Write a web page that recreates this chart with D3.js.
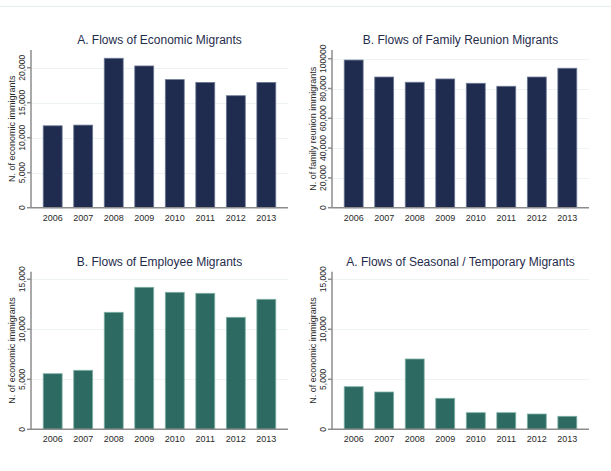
<!DOCTYPE html>
<html>
<head>
<meta charset="utf-8">
<script src="https://cdn.jsdelivr.net/npm/d3@7"></script>
<style>
  body { margin: 0; background: #fff; }
  svg { display: block; font-family: "Liberation Sans", Arial, sans-serif; }
  .grid line { stroke: #eef3f3; stroke-width: 1; }
  .axisline { stroke: #8c8c8c; stroke-width: 1.5; }
  .ttext { fill: #2a2a2a; font-size: 8.5px; }
  .xtext { fill: #2a2a2a; font-size: 9px; }
  .title { fill: #1f2c4c; font-size: 12px; text-anchor: middle; }
</style>
</head>
<body>
<svg id="chart" width="611" height="471"></svg>
<script>
var years = ['2006', '2007', '2008', '2009', '2010', '2011', '2012', '2013'];

var economic      = [11700, 11800, 21350, 20250, 18300, 17900, 16000, 17900];
var familyReunion = [99100, 87700, 84200, 86400, 83500, 81500, 87700, 93600];
var employee      = [5560, 5900, 11700, 14200, 13700, 13600, 11200, 13000];
var seasonal      = [4260, 3730, 7030, 3100, 1660, 1660, 1530, 1300];

var economicTicks = [0, 5000, 10000, 15000, 20000];
var economicTickLabels = ['0', '5,000', '10,000', '15,000', '20,000'];
var familyTicks = [0, 20000, 40000, 60000, 80000, 100000];
var familyTickLabels = ['0', '20,000', '40,000', '60,000', '80,000', '100000'];
var smallTicks = [0, 5000, 10000, 15000];
var smallTickLabels = ['0', '5,000', '10,000', '15,000'];

var navy = '#1f2b4f', navyEdge = '#6d7a96';
var teal = '#2d6b62', tealEdge = '#7fb0a6';

var svg = d3.select('#chart');

// faint rule across the top
svg.append('line')
   .attr('x1', 0).attr('x2', 611)
   .attr('y1', 6.5).attr('y2', 6.5)
   .attr('stroke', '#e8efef');

function drawPanel(p) {
  var x = d3.scaleBand().domain(years)
            .range([p.left, p.right])
            .paddingInner(0.38).paddingOuter(0.4);
  var y = d3.scaleLinear().domain([0, p.yMax]).range([p.bottom, p.top]);

  var g = svg.append('g');

  // gridlines
  g.append('g').attr('class', 'grid')
   .selectAll('line')
   .data(p.ticks.slice(1))
   .enter().append('line')
     .attr('x1', p.left).attr('x2', p.right)
     .attr('y1', function(d) { return Math.round(y(d)) + 0.5; })
     .attr('y2', function(d) { return Math.round(y(d)) + 0.5; });

  // bars
  g.selectAll('.bar')
   .data(p.values)
   .enter().append('rect')
     .attr('class', 'bar')
     .attr('x', function(d, i) { return x(years[i]); })
     .attr('width', x.bandwidth())
     .attr('y', function(d) { return y(d); })
     .attr('height', function(d) { return y(0) - y(d); })
     .attr('fill', p.color)
     .attr('stroke', p.edge)
     .attr('stroke-width', 0.8);

  // y axis line + ticks
  g.append('line').attr('class', 'axisline')
   .attr('x1', p.left).attr('x2', p.left)
   .attr('y1', p.top).attr('y2', p.bottom);
  g.selectAll('.ytick')
   .data(p.ticks)
   .enter().append('line')
     .attr('class', 'axisline')
     .attr('x1', p.left - 4).attr('x2', p.left)
     .attr('y1', function(d) { return y(d); })
     .attr('y2', function(d) { return y(d); });
  g.selectAll('.ylab')
   .data(p.ticks)
   .enter().append('text')
     .attr('class', 'ttext')
     .attr('text-anchor', 'middle')
     .attr('transform', function(d) { return 'translate(' + (p.left - 6) + ',' + y(d) + ') rotate(-90)'; })
     .text(function(d, i) { return p.tickLabels[i]; });

  // x axis line + labels
  g.append('line').attr('class', 'axisline')
   .attr('x1', p.left).attr('x2', p.right)
   .attr('y1', p.bottom).attr('y2', p.bottom);
  g.selectAll('.xlab')
   .data(years)
   .enter().append('text')
     .attr('class', 'xtext')
     .attr('text-anchor', 'middle')
     .attr('x', function(d) { return x(d) + x.bandwidth() / 2; })
     .attr('y', p.bottom + 13)
     .text(function(d) { return d; });

  // axis title
  g.append('text')
   .attr('class', 'xtext')
   .attr('text-anchor', 'middle')
   .attr('transform', 'translate(' + (p.left - 16) + ',' + ((p.top + p.bottom) / 2) + ') rotate(-90)')
   .text(p.yTitle);

  // panel title
  g.append('text')
   .attr('class', 'title')
   .attr('x', (p.left + p.right) / 2)
   .attr('y', p.titleY)
   .text(p.title);
}

drawPanel({ left: 31, right: 288, top: 50, bottom: 207.7, yMax: 22530, titleY: 44,
            ticks: economicTicks, tickLabels: economicTickLabels, values: economic,
            color: navy, edge: navyEdge,
            title: 'A. Flows of Economic Migrants', yTitle: 'N. of economic immigrants' });

drawPanel({ left: 332, right: 589, top: 50, bottom: 207.7, yMax: 105840, titleY: 44,
            ticks: familyTicks, tickLabels: familyTickLabels, values: familyReunion,
            color: navy, edge: navyEdge,
            title: 'B. Flows of Family Reunion Migrants', yTitle: 'N. of family reunion immigrants' });

drawPanel({ left: 31, right: 288, top: 271.7, bottom: 429.3, yMax: 15760, titleY: 266,
            ticks: smallTicks, tickLabels: smallTickLabels, values: employee,
            color: teal, edge: tealEdge,
            title: 'B. Flows of Employee Migrants', yTitle: 'N. of economic immigrants' });

drawPanel({ left: 332, right: 589, top: 271.7, bottom: 429.3, yMax: 15760, titleY: 266,
            ticks: smallTicks, tickLabels: smallTickLabels, values: seasonal,
            color: teal, edge: tealEdge,
            title: 'A. Flows of Seasonal / Temporary Migrants', yTitle: 'N. of economic immigrants' });
</script>
</body>
</html>
